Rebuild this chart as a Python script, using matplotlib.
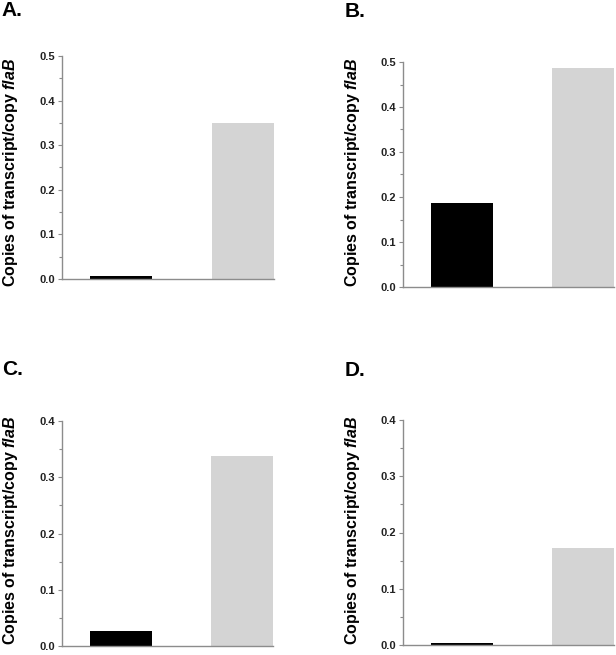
import matplotlib
matplotlib.use("Agg")
import matplotlib.pyplot as plt
from matplotlib.ticker import MultipleLocator

plt.rcParams['font.family'] = ['Liberation Sans', 'DejaVu Sans']
plt.rcParams['mathtext.fontset'] = 'custom'
plt.rcParams['mathtext.it'] = 'Liberation Sans:italic:bold'
plt.rcParams['mathtext.rm'] = 'Liberation Sans:bold'

panels = ["A.", "B.", "C.", "D."]
categories = ["black", "gray"]
values_A = [0.007, 0.35]
values_B = [0.187, 0.487]
values_C = [0.027, 0.338]
values_D = [0.003, 0.172]
ymax = [0.5, 0.5, 0.4, 0.4]
all_values = [values_A, values_B, values_C, values_D]

W, H = 616, 655
fig = plt.figure(figsize=(W / 100, H / 100), dpi=100)

# axes boxes in pixels: left, top, right, bottom
boxes = [(62, 56, 274, 279), (403, 62, 614, 287), (62, 421, 273, 646), (403, 420, 614, 645)]
label_pos = [(1, 16), (345, 17), (2, 375), (345, 376)]
ylab_pos = [(11, 172), (352, 172), (11, 530), (352, 530)]

colors = ["#000000", "#d4d4d4"]
for i in range(4):
    l, t, r, b = boxes[i]
    ax = fig.add_axes([l / W, (H - b) / H, (r - l) / W, (b - t) / H])
    x = [0, 1]
    ax.bar(x, all_values[i], width=0.508, color=colors, edgecolor='none')
    ax.set_xlim(-0.484, 1.254)
    ax.set_ylim(0, ymax[i])
    ax.yaxis.set_major_locator(MultipleLocator(0.1))
    ax.yaxis.set_minor_locator(MultipleLocator(0.05))
    ax.set_yticklabels([f"{v:.1f}" for v in ax.get_yticks()])
    ax.set_xticks([])
    for s in ['top', 'right']:
        ax.spines[s].set_visible(False)
    for s in ['left', 'bottom']:
        ax.spines[s].set_color('#8c8c8c')
        ax.spines[s].set_linewidth(1.0)
    ax.tick_params(axis='y', which='major', length=3, width=0.8, color='#8c8c8c', pad=2,
                   labelsize=8, labelcolor='#222222')
    ax.tick_params(axis='y', which='minor', length=2.5, width=0.8, color='#8c8c8c')
    for lab in ax.get_yticklabels():
        lab.set_fontweight('bold')
    fig.text(label_pos[i][0] / W, 1 - label_pos[i][1] / H, panels[i], fontsize=15,
             fontweight='bold', ha='left', va='baseline')
    fig.text(ylab_pos[i][0] / W, 1 - ylab_pos[i][1] / H,
             r"Copies of transcript/copy $\mathit{flaB}$",
             rotation=90, ha='center', va='center', fontsize=11.5, fontweight='bold')

fig.savefig("out.png", dpi=100)
